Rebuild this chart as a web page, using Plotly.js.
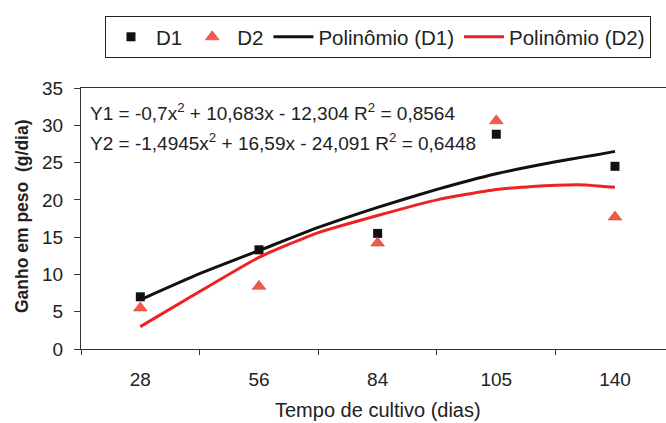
<!DOCTYPE html>
<html>
<head>
<meta charset="utf-8">
<script src="https://cdn.plot.ly/plotly-3.0.1.min.js"></script>
<style>html,body{margin:0;padding:0;background:#fff;}#chart{width:666px;height:423px;}</style>
</head>
<body>
<div id="chart"></div>
<script>
// Categories (days of cultivation)
var categories = ['28', '56', '84', '105', '140'];
var catIndex = [0, 1, 2, 3, 4];
// Observed values (g/dia)
var d1 = [7.0, 13.3, 15.5, 28.8, 24.5];
var d2 = [5.5, 8.4, 14.2, 30.6, 17.7];
// Trend curves (x in category positions)
var curveX = [0, 0.5, 1, 1.5, 2, 2.5, 3, 3.5, 3.75, 3.9, 4];
var poly1 = [6.6, 10.1, 13.2, 16.3, 19.0, 21.4, 23.5, 25.1, 25.8, 26.2, 26.5];
var poly2 = [3.0, 7.7, 12.3, 15.6, 17.9, 20.0, 21.4, 21.95, 22.0, 21.8, 21.7];
var yTicks = [0, 5, 10, 15, 20, 25, 30, 35];
var eq1 = 'Y1 = -0,7x<sup>2</sup> + 10,683x - 12,304 R<sup>2</sup> = 0,8564';
var eq2 = 'Y2 = -1,4945x<sup>2</sup> + 16,59x - 24,091 R<sup>2</sup> = 0,6448';

var FONT = '"Liberation Sans", Arial, sans-serif';
var traces = [
  {x: catIndex, y: d1, name: 'D1', type: 'scatter', mode: 'markers',
   marker: {symbol: 'square', size: 9, color: '#111'}},
  {x: catIndex, y: d2, name: 'D2', type: 'scatter', mode: 'markers',
   marker: {symbol: 'triangle-up', size: 12, color: '#f05a4a', line: {color: '#e03020', width: 0.5}}},
  {x: curveX, y: poly1, name: 'Polinômio (D1)', type: 'scatter', mode: 'lines',
   line: {color: '#111', width: 3, shape: 'spline', smoothing: 0.5}},
  {x: curveX, y: poly2, name: 'Polinômio (D2)', type: 'scatter', mode: 'lines',
   line: {color: '#ee2222', width: 3, shape: 'spline', smoothing: 0.5}}
];

var layout = {
  width: 666, height: 423,
  margin: {l: 81, r: 0, t: 88, b: 74},
  paper_bgcolor: '#fff', plot_bgcolor: '#fff',
  font: {family: FONT, color: '#222', size: 19},
  showlegend: true,
  legend: {orientation: 'h', x: 0.041, y: 1.276, xanchor: 'left', yanchor: 'top',
    bordercolor: '#222', borderwidth: 1, itemwidth: 40,
    font: {size: 20.5, family: FONT, color: '#222'},
    traceorder: 'normal'},
  xaxis: {
    range: [-0.5, 4.43], tickmode: 'array', tickvals: catIndex, ticktext: categories,
    ticks: '', showgrid: false, zeroline: false, showline: true, linecolor: '#333', linewidth: 1,
    mirror: true, ticklabelstandoff: 13,
    tickfont: {size: 19, family: FONT, color: '#222'},
    minor: {tickmode: 'array', tickvals: [-0.5, 0.5, 1.5, 2.5, 3.5], ticks: 'outside', ticklen: 5,
      tickcolor: '#333', tickwidth: 1, showgrid: false}
  },
  yaxis: {
    range: [0, 35], tickmode: 'array', tickvals: yTicks, ticks: 'outside', ticklen: 6,
    tickcolor: '#333', showgrid: false, zeroline: false, showline: true, linecolor: '#333',
    linewidth: 1, ticklabelstandoff: 7,
    tickfont: {size: 19, family: FONT, color: '#222'}
  },
  annotations: [
    {text: eq1, xref: 'paper', yref: 'paper', x: 0.012, y: 0.909, xanchor: 'left', yanchor: 'middle',
     showarrow: false, font: {size: 19, family: FONT, color: '#222'}},
    {text: eq2, xref: 'paper', yref: 'paper', x: 0.012, y: 0.794, xanchor: 'left', yanchor: 'middle',
     showarrow: false, font: {size: 19, family: FONT, color: '#222'}},
    {text: 'Tempo de cultivo (dias)', xref: 'paper', yref: 'paper', x: (378 - 81) / 585, y: (349 - 410) / 261,
     xanchor: 'center', yanchor: 'middle', showarrow: false, font: {size: 20, family: FONT, color: '#222'}},
    {text: '<b>Ganho em peso&nbsp; (g/dia)</b>', xref: 'paper', yref: 'paper', x: (22 - 81) / 585, y: (349 - 216) / 261,
     xanchor: 'center', yanchor: 'middle', textangle: -90, showarrow: false,
     font: {size: 17.5, family: FONT, color: '#222'}}
  ]
};

Plotly.newPlot('chart', traces, layout, {displayModeBar: false, staticPlot: true});
</script>
</body>
</html>
